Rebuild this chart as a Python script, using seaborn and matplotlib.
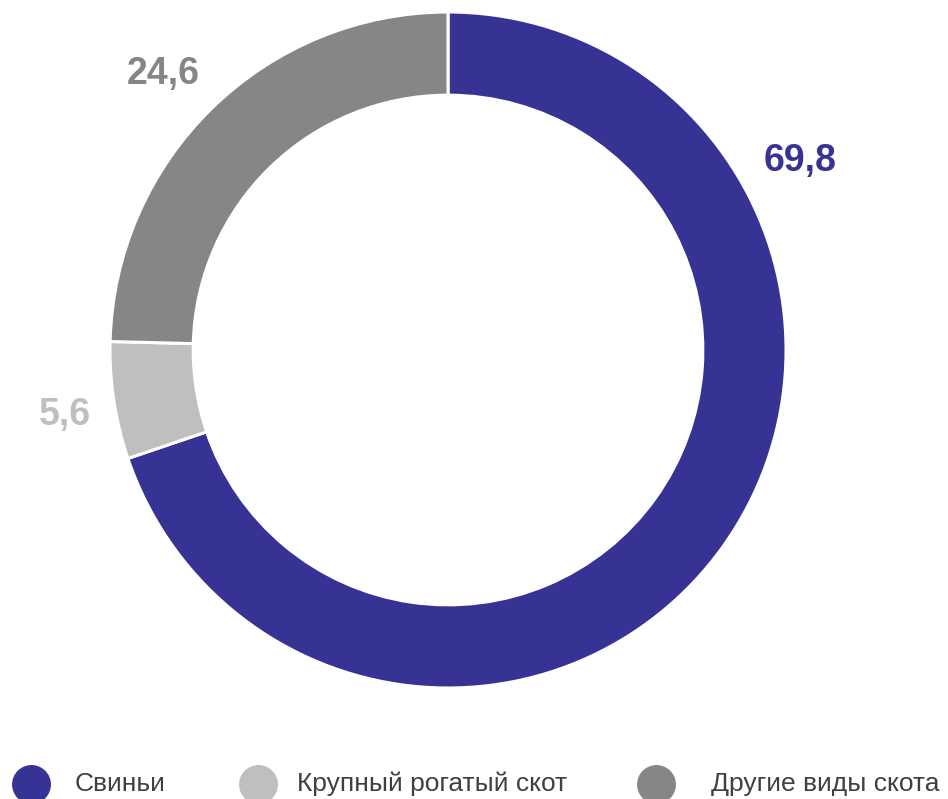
import seaborn as sns
import matplotlib.pyplot as plt
from matplotlib.lines import Line2D

# data
categories = ["Свиньи", "Крупный рогатый скот", "Другие виды скота"]
values = [69.8, 5.6, 24.6]
value_labels = ["69,8", "5,6", "24,6"]
colors = ["#363394", "#bfbfbf", "#868686"]

sns.set_theme(style="white")
plt.rcParams['font.family'] = ['Liberation Sans', 'DejaVu Sans']

fig = plt.figure(figsize=(9.48, 7.99), dpi=100)
# square axes centered on the donut
ax = fig.add_axes([0.1034, 0.1239, 0.7384, 0.8761])
wedges, _ = ax.pie(values, colors=colors, startangle=90, counterclock=False,
                   radius=1.0, wedgeprops=dict(width=0.246, edgecolor="white", linewidth=2.2))
ax.set_xlim(-1.0355, 1.0355)
ax.set_ylim(-1.0355, 1.0355)
ax.set_aspect("equal")
ax.axis("off")

# value labels (Excel-style placement)
label_pos = [(1.041, 0.558), (-1.133, -0.193), (-0.843, 0.818)]
for (x, y), txt, c in zip(label_pos, value_labels, colors):
    ax.text(x, y, txt, color=c, fontsize=27, fontweight="bold", ha="center", va="center")

# legend drawn by hand along the bottom edge
leg_marker_x = [31, 258, 656]
leg_text_x = [75, 297, 711]
leg_y = 1 - 784 / 799
for mx, tx, lab, c in zip(leg_marker_x, leg_text_x, categories, colors):
    fig.add_artist(Line2D([mx / 948], [leg_y], marker="o", linestyle="none", markersize=27,
                          markerfacecolor=c, markeredgecolor=c, transform=fig.transFigure))
    fig.text(tx / 948, leg_y, lab, fontsize=19, color="#404040", va="center", ha="left")

fig.savefig("out.png", dpi=100)
